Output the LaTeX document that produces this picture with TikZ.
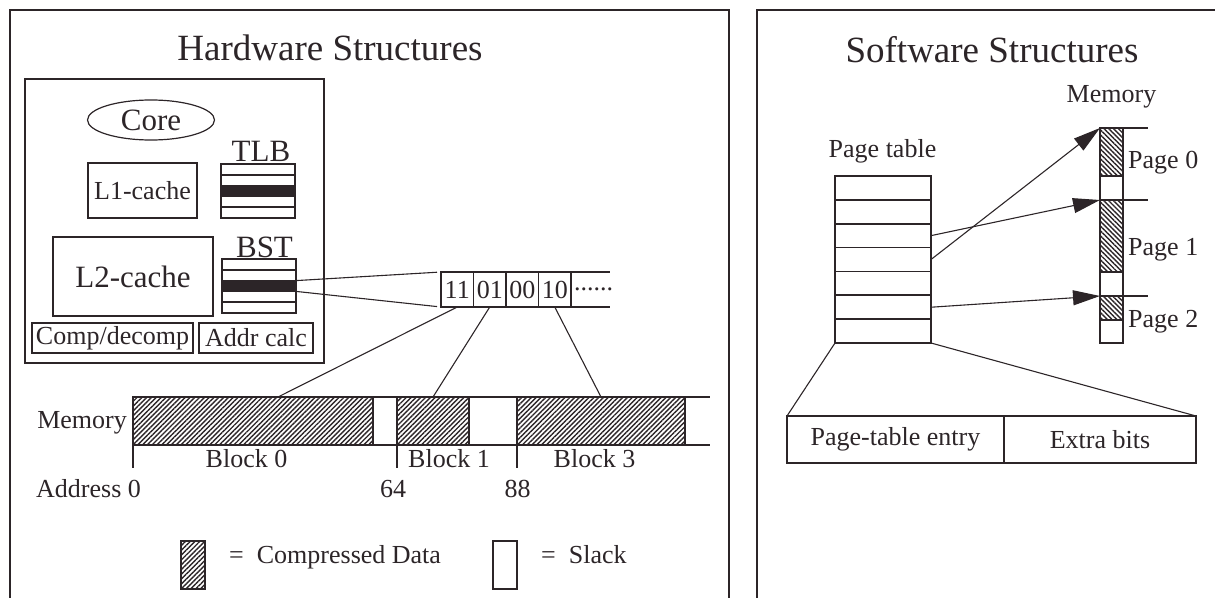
\documentclass[tikz,border=0pt]{standalone}
\usepackage{fontspec}
\setmainfont{Liberation Serif}
\usetikzlibrary{positioning,calc,shapes.geometric,patterns.meta,arrows.meta}

\definecolor{ink}{RGB}{44,37,40}
\newcommand{\lblsize}{\fontsize{26}{30}\selectfont}
\newcommand{\bigsize}{\fontsize{31}{36}\selectfont}
\newcommand{\titlesize}{\fontsize{37}{44}\selectfont}

\tikzset{
    every node/.style={text=ink},
    panel/.style={draw=ink, line width=2pt},
    box/.style={draw=ink, line width=1.6pt},
    link/.style={draw=ink, line width=1.1pt},
    ptr/.style={link, -{Triangle[length=27pt, width=15pt]}},
    lbl/.style={font=\lblsize, inner sep=0pt},
    big/.style={font=\bigsize, inner sep=0pt},
    title/.style={font=\titlesize, inner sep=0pt},
    unit/.style={box, inner sep=0pt, outer sep=0pt, font=\lblsize},
    cell/.style={unit, minimum width=32.5, minimum height=35},
    hatched/.style={unit, pattern={Lines[angle=45, distance=3.4pt, line width=1.4pt]}, pattern color=ink},
    rhatched/.style={unit, pattern={Lines[angle=-45, distance=3.4pt, line width=1.4pt]}, pattern color=ink}
}

\begin{document}
\begin{tikzpicture}[x=1pt, y=-1pt]
                \useasboundingbox (0,0) rectangle (1215,597);
                % two frames, open at the bottom
                \draw [panel] (10,600) |- (729,10) -- (729,600);
                \draw [panel] (757,600) |- (1220,10);

                % hardware side
                \node [title, anchor=base] (hwtitle) at (330,60) {Hardware Structures};
                \node [unit, line width=1.8pt, minimum width=299, minimum height=284] (chip) at (174.5,221) {};
                \node [unit, ellipse, line width=1.2pt, minimum width=127, minimum height=40, font=\bigsize] (core) at (151,120) {Core};
                \node [unit, minimum width=109, minimum height=55] (l1) at (142.5,190.5) {L1-cache};
                \node [unit, minimum width=74, minimum height=54] (tlb) at (258,191) {};
                \node [big, anchor=base] (tlblbl) at (261,161) {TLB};
                \node [unit, minimum width=160, minimum height=79, font=\bigsize] (l2) at (133,276.5) {L2-cache};
                \node [unit, minimum width=74, minimum height=54] (bst) at (259,286) {};
                \node [big, anchor=base] (bstlbl) at (264.5,257) {BST};
                \node [unit, minimum width=161, minimum height=30] (comp) at (112.5,338) {Comp/decomp};
                \node [unit, minimum width=114, minimum height=30] (addr) at (256,338) {Addr calc};

                % five entries per table, the middle one selected
                \foreach \tab in {tlb,bst} {
                    \fill [ink] ($(\tab.north west)!0.4!(\tab.south west)$) rectangle ($(\tab.north east)!0.6!(\tab.south east)$);
                    \foreach \r in {1,...,4}
                        \draw [box] ($(\tab.north west)!\r/5!(\tab.south west)$) -- ($(\tab.north east)!\r/5!(\tab.south east)$);
                }

                % size bits of one BST entry
                \node [cell] (b0) at (457.25,289.5) {11};
                \node [cell, right=0pt of b0] (b1) {01};
                \node [cell, right=0pt of b1] (b2) {00};
                \node [cell, right=0pt of b2] (b3) {10};
                \node [lbl, anchor=west] (more) at ([xshift=3pt]b3.east) {......};
                \draw [box] (b3.north east) -- ++(39,0) (b3.south east) -- ++(39,0);
                \draw [link, shorten >=4pt] ($(bst.north east)!0.4!(bst.south east)$) -- (b0.north west);
                \draw [link, shorten >=4pt] ($(bst.north east)!0.6!(bst.south east)$) -- (b0.south west);

                % compressed blocks in memory
                \node [lbl, anchor=base east] (memlbl) at (127,428) {Memory};
                \node [hatched, minimum width=240, minimum height=48] (blk0) at (253,421) {};
                \node [hatched, minimum width=72, minimum height=48] (blk1) at (433,421) {};
                \node [hatched, minimum width=168, minimum height=48] (blk3) at (601,421) {};
                \coordinate (memend) at (710,397);
                \draw [box] (blk0.north west) -- (memend) (blk0.south west) -- (memend |- blk0.south);
                \draw [box] (blk0.north west) -- ++(0,71) (blk1.north west) -- ++(0,71) (blk3.north west) -- ++(0,71);
                \draw [link] (b0.south) -- ($(blk0.north)+(25,0)$);
                \draw [link] (b1.south) -- (blk1.north);
                \draw [link] (b3.south) -- (blk3.north);

                \node [lbl, anchor=base] (blk0lbl) at (246.5,467) {Block 0};
                \node [lbl, anchor=base] (blk1lbl) at (449,467) {Block 1};
                \node [lbl, anchor=base] (blk3lbl) at (594.5,467) {Block 3};
                \node [lbl, anchor=base west] (addrlbl) at (36,497) {Address 0};
                \node [lbl, anchor=base] (a64) at (393,497) {64};
                \node [lbl, anchor=base] (a88) at (517.5,497) {88};

                % key
                \node [hatched, minimum width=24, minimum height=48] (keydata) at (193,565) {};
                \node [lbl, anchor=base west] (keydatalbl) at (229,563) {=~~Compressed Data};
                \node [unit, minimum width=24, minimum height=48] (keyslack) at (505,565) {};
                \node [lbl, anchor=base west] (keyslacklbl) at (541,563) {=~~Slack};

                % software side
                \node [title, anchor=base] (swtitle) at (992,62) {Software Structures};
                \node [lbl, anchor=base] (memtop) at (1111.5,102) {Memory};
                \node [lbl, anchor=base] (ptlbl) at (882.5,157) {Page table};
                \node [unit, minimum width=96, minimum height=167] (ptab) at (883,259.5) {};
                \foreach \r in {1,...,6}
                    \draw [box] ($(ptab.north west)!\r/7!(ptab.south west)$) -- ($(ptab.north east)!\r/7!(ptab.south east)$);

                % pages with their slack
                \node [rhatched, minimum width=23, minimum height=48] (pg0) at (1111.5,152) {};
                \node [rhatched, minimum width=23, minimum height=72] (pg1) at (1111.5,236) {};
                \node [rhatched, minimum width=23, minimum height=24] (pg2) at (1111.5,308) {};
                \coordinate (colend) at (1123,343);
                \draw [box] (pg0.north west) rectangle (colend);
                \draw [box] (pg0.north west) -- ++(48,0) (pg1.north west) -- ++(48,0) (pg2.north west) -- ++(48,0);
                \node [lbl, anchor=base west] (pg0lbl) at (1128,168) {Page 0};
                \node [lbl, anchor=base west] (pg1lbl) at (1128,255) {Page 1};
                \node [lbl, anchor=base west] (pg2lbl) at (1128,327) {Page 2};

                \draw [ptr] ($(ptab.north east)!3.5/7!(ptab.south east)$) -- (pg0.north west);
                \draw [ptr] ($(ptab.north east)!2.5/7!(ptab.south east)$) -- (pg1.north west);
                \draw [ptr] ($(ptab.north east)!5.5/7!(ptab.south east)$) -- (pg2.north west);

                % one entry spread out
                \node [unit, minimum width=217, minimum height=47] (pte) at (895.5,439.5) {Page-table entry};
                \node [unit, minimum width=192, minimum height=47, right=0pt of pte] (extra) {Extra bits};
                \draw [link] (ptab.south west) -- (pte.north west);
                \draw [link] (ptab.south east) -- (extra.north east);
            \end{tikzpicture}
\end{document}
